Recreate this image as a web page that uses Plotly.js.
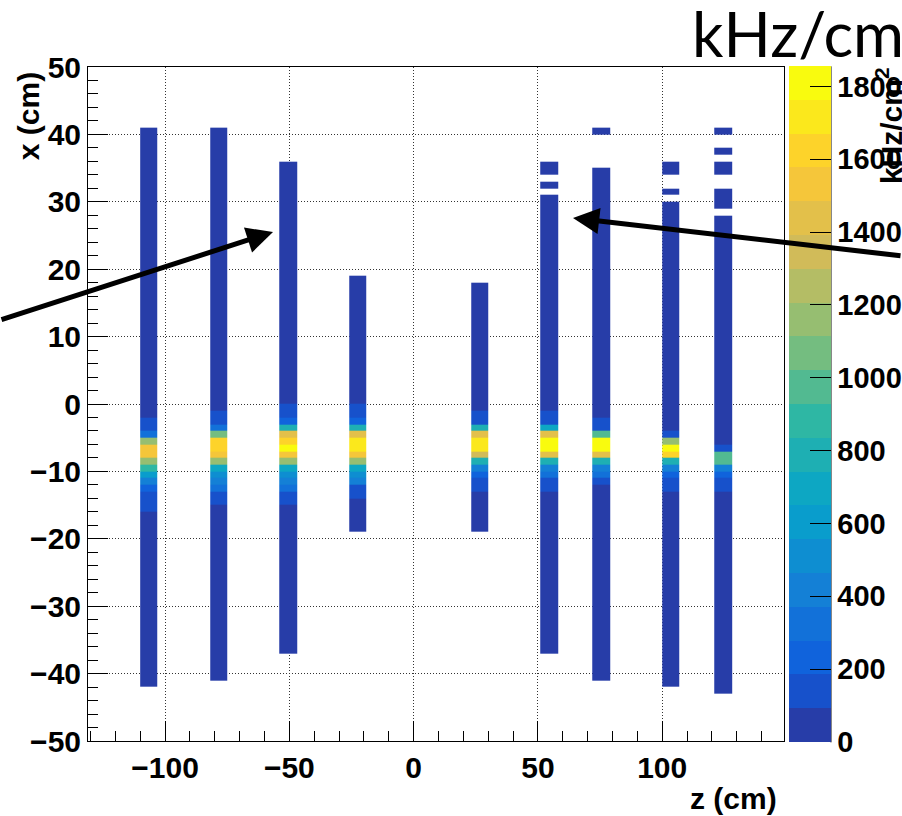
<!DOCTYPE html>
<html>
<head>
<meta charset="utf-8">
<script src="https://cdn.plot.ly/plotly-3.0.1.min.js"></script>
<style>
html,body{margin:0;padding:0;background:#fff;}
#chart{width:902px;height:816px;}
</style>
</head>
<body>
<div id="chart"></div>
<script>
// ---- DATA ----------------------------------------------------------
// z-bin edges (cm) of the nine columns; the odd intervals are empty gaps
const zEdges = [-110,-103, -82,-75, -54,-47, -26,-19, 23,30, 51,58, 72,79, 100,107, 121,128];
// x bins are 1 cm wide, covering [-43, 41]
const xLow = -43, xHigh = 41;
const _ = null;
// Rate per cell (kHz/cm^2), each column listed from bin [40,41] down to [-43,-42]
const col1 = [
 40,40,40,40,40,40,40,40,40,40, 40,40,40,40,40,40,40,40,40,40,
 40,40,40,40,40,40,40,40,40,40, 40,40,40,40,40,40,40,40,40,40, 40,
 40,40,140,140,330,1160,1530,1530,1160,880,600,420,230,140,140,140,
 40,40,40,40,40,40,40,40,40,40, 40,40,40,40,40,40,40,40,40,40, 40,40,40,40,40,40,
 _];
const col2 = [
 40,40,40,40,40,40,40,40,40,40, 40,40,40,40,40,40,40,40,40,40,
 40,40,40,40,40,40,40,40,40,40, 40,40,40,40,40,40,40,40,40,40, 40,
 40,140,140,330,1070,1620,1620,1530,1160,700,510,420,330,140,140,
 40,40,40,40,40,40,40,40,40,40, 40,40,40,40,40,40,40,40,40,40, 40,40,40,40,40,40,
 _,_];
const col3 = [
 _,_,_,_,_,
 40,40,40,40,40,40,40,40,40,40, 40,40,40,40,40,40,40,40,40,40,
 40,40,40,40,40,40,40,40,40,40, 40,40,40,40,40,40,
 140,140,230,790,1440,1620,1810,1530,1160,700,510,420,330,140,140,
 40,40,40,40,40,40,40,40,40,40, 40,40,40,40,40,40,40,40,40,40, 40,40,
 _,_,_,_,_,_];
const col4 = [
 _,_,_,_,_,_,_,_,_,_, _,_,_,_,_,_,_,_,_,_, _,_,
 40,40,40,40,40,40,40,40,40,40, 40,40,40,40,40,40,40,40,40,
 140,140,230,790,1440,1720,1720,1530,1160,700,510,420,140,140,
 40,40,40,40,40,
 _,_,_,_,_,_,_,_,_,_, _,_,_,_,_,_,_,_,_,_, _,_,_,_];
const col5 = [
 _,_,_,_,_,_,_,_,_,_, _,_,_,_,_,_,_,_,_,_, _,_,_,
 40,40,40,40,40,40,40,40,40,40, 40,40,40,40,40,40,40,40,
 40,140,140,790,1440,1720,1720,1350,790,420,230,140,140,
 40,40,40,40,40,40,
 _,_,_,_,_,_,_,_,_,_, _,_,_,_,_,_,_,_,_,_, _,_,_,_];
const col6 = [
 _,_,_,_,_,
 40,40, _, 40, _,
 40,40,40,40,40,40,40,40,40,40, 40,40,40,40,40,40,40,40,40,40,
 40,40,40,40,40,40,40,40,40,40, 40,
 40,140,140,700,1440,1810,1810,1440,790,420,330,140,140,
 40,40,40,40,40,40,40,40,40,40, 40,40,40,40,40,40,40,40,40,40, 40,40,40,40,
 _,_,_,_,_,_];
const col7 = [
 40,
 _,_,_,_,_,
 40,40,40,40,40,40,40,40,40,40, 40,40,40,40,40,40,40,40,40,40,
 40,40,40,40,40,40,40,40,40,40, 40,40,40,40,40,
 40,40,140,140,970,1810,1810,1440,790,420,330,140,
 40,40,40,40,40,40,40,40,40,40, 40,40,40,40,40,40,40,40,40,40, 40,40,40,40,40,40,40,40,40,
 _,_];
const col8 = [
 _,_,_,_,_,
 40,40, _,_, 40, _,
 40,40,40,40,40,40,40,40,40,40, 40,40,40,40,40,40,40,40,40,40,
 40,40,40,40,40,40,40,40,40,40,
 40,40,40,40,140,1160,1810,1620,790,420,230,140,140,
 40,40,40,40,40,40,40,40,40,40, 40,40,40,40,40,40,40,40,40,40, 40,40,40,40,40,40,40,40,40,
 _];
const col9 = [
 40, _,_, 40, _, 40,40, _,_, 40,40,40, _,
 40,40,40,40,40,40,40,40,40,40, 40,40,40,40,40,40,40,40,40,40,
 40,40,40,40,40,40,40,40,
 40,40,40,40,40,40,140,970,970,420,230,140,140,
 40,40,40,40,40,40,40,40,40,40, 40,40,40,40,40,40,40,40,40,40,
 40,40,40,40,40,40,40,40,40,40];
const columns = [col1,col2,col3,col4,col5,col6,col7,col8,col9];
const zMin = 0, zMax = 1856, nLevels = 20;
const cbTickStep = 200;

// ---- kBird palette, 20 contour levels (ROOT style) ----------------
const birdStops = [0,0.125,0.25,0.375,0.5,0.625,0.75,0.875,1];
const birdR = [0.2082,0.0592,0.0780,0.0232,0.1802,0.5301,0.8186,0.9956,0.9764];
const birdG = [0.1664,0.3599,0.5041,0.6419,0.7178,0.7492,0.7328,0.7862,0.9832];
const birdB = [0.5293,0.8684,0.8385,0.7914,0.6425,0.4662,0.3499,0.1968,0.0539];
function bird(f){
  let i = Math.min(7, Math.floor(f*8));
  const t = (f - birdStops[i]) / (birdStops[i+1]-birdStops[i]);
  const c = a => Math.round(255*(a[i] + (a[i+1]-a[i])*t));
  return 'rgb(' + c(birdR) + ',' + c(birdG) + ',' + c(birdB) + ')';
}
const colorscale = [];
for (let i = 0; i < nLevels; i++) {
  const idx = Math.floor((i + 0.99) * 255 / nLevels);
  const col = bird(Math.min(1, idx / 254));
  colorscale.push([i / nLevels, col]);
  colorscale.push([(i + 1) / nLevels, col]);
}

// ---- build heatmap matrix ----------------------------------------
const yEdges = [];
for (let v = xLow; v <= xHigh; v++) yEdges.push(v);
const nRows = xHigh - xLow;
const zMatrix = [];
for (let r = 0; r < nRows; r++) {
  const row = [];
  for (let j = 0; j < columns.length; j++) {
    row.push(columns[j][nRows - 1 - r]);
    if (j < columns.length - 1) row.push(null);
  }
  zMatrix.push(row);
}

const boldFont = {family: 'Liberation Sans, Arial, sans-serif', size: 30, color: '#000', weight: 'bold'};

const trace = {
  type: 'heatmap',
  x: zEdges,
  y: yEdges,
  z: zMatrix,
  zmin: zMin, zmax: zMax,
  colorscale: colorscale,
  zsmooth: false,
  hoverinfo: 'skip',
  colorbar: {
    x: 1.0072, xanchor: 'left', y: 0.5, yanchor: 'middle',
    len: 1.003, lenmode: 'fraction',
    thickness: 42, thicknessmode: 'pixels',
    xpad: 0, ypad: 0,
    outlinewidth: 0,
    ticks: 'inside', ticklen: 21, tickwidth: 1, tickcolor: '#000',
    tick0: 0, dtick: cbTickStep,
    tickfont: {family: 'Liberation Sans, Arial, sans-serif', size: 29, color: '#000', weight: 'bold'}
  }
};

const axisCommon = {
  ticks: 'inside', ticklen: 20, tickwidth: 1, tickcolor: '#000',
  showline: true, linecolor: '#000', linewidth: 1, mirror: true,
  showgrid: true, gridcolor: '#333', gridwidth: 1, griddash: '1px,2px',
  zeroline: false,
  tickfont: {family: 'Liberation Sans, Arial, sans-serif', size: 30, color: '#000', weight: 'bold'}
};

const layout = {
  width: 902, height: 816,
  margin: {l: 88, r: 118, t: 67, b: 75, pad: 0, autoexpand: false},
  paper_bgcolor: '#fff', plot_bgcolor: '#fff',
  xaxis: Object.assign({}, axisCommon, {
    range: [-131, 149], tick0: 0, dtick: 50, ticklabelstandoff: 0,
    minor: {dtick: 10, ticks: 'inside', ticklen: 10, tickcolor: '#000', showgrid: false}
  }),
  yaxis: Object.assign({}, axisCommon, {
    range: [-50, 50], tick0: 0, dtick: 10, ticklabelstandoff: 0,
    minor: {dtick: 2, ticks: 'inside', ticklen: 10, tickcolor: '#000', showgrid: false}
  }),
  shapes: [
    {type: 'line', xref: 'paper', yref: 'paper', x0: 1.0675, x1: 1.0675, y0: -0.002, y1: 1.001,
     line: {color: '#000', width: 1}}
  ],
  annotations: [
    {text: 'kHz/cm<sup>2</sup>', xref: 'paper', yref: 'paper', x: 0.865, y: 1.057,
     xanchor: 'left', yanchor: 'middle', showarrow: false,
     font: {family: 'Lato, Open Sans, sans-serif', size: 62, color: '#000'}},
    {text: 'kHz/cm<sup>2</sup>', xref: 'paper', yref: 'paper', x: 1.151, y: 0.9125,
     xanchor: 'center', yanchor: 'middle', textangle: -90, showarrow: false, font: boldFont},
    {text: 'x (cm)', xref: 'paper', yref: 'paper', x: -0.0862, y: 0.927,
     xanchor: 'center', yanchor: 'middle', textangle: -90, showarrow: false, font: boldFont},
    {text: 'z (cm)', xref: 'paper', yref: 'paper', x: 0.928, y: -0.0846,
     xanchor: 'center', yanchor: 'middle', showarrow: false, font: boldFont},
    {text: '', xref: 'paper', yref: 'paper', x: 0.2658, y: 0.7552,
     showarrow: true, arrowhead: 2, arrowsize: 1.05, arrowwidth: 5, arrowcolor: '#000',
     ax: -330, ay: 88, standoff: 0},
    {text: '', xref: 'paper', yref: 'paper', x: 0.6968, y: 0.776,
     showarrow: true, arrowhead: 2, arrowsize: 1.05, arrowwidth: 5, arrowcolor: '#000',
     ax: 400, ay: 38, standoff: 0}
  ]
};

Plotly.newPlot('chart', [trace], layout, {staticPlot: true, displayModeBar: false});
</script>
</body>
</html>
